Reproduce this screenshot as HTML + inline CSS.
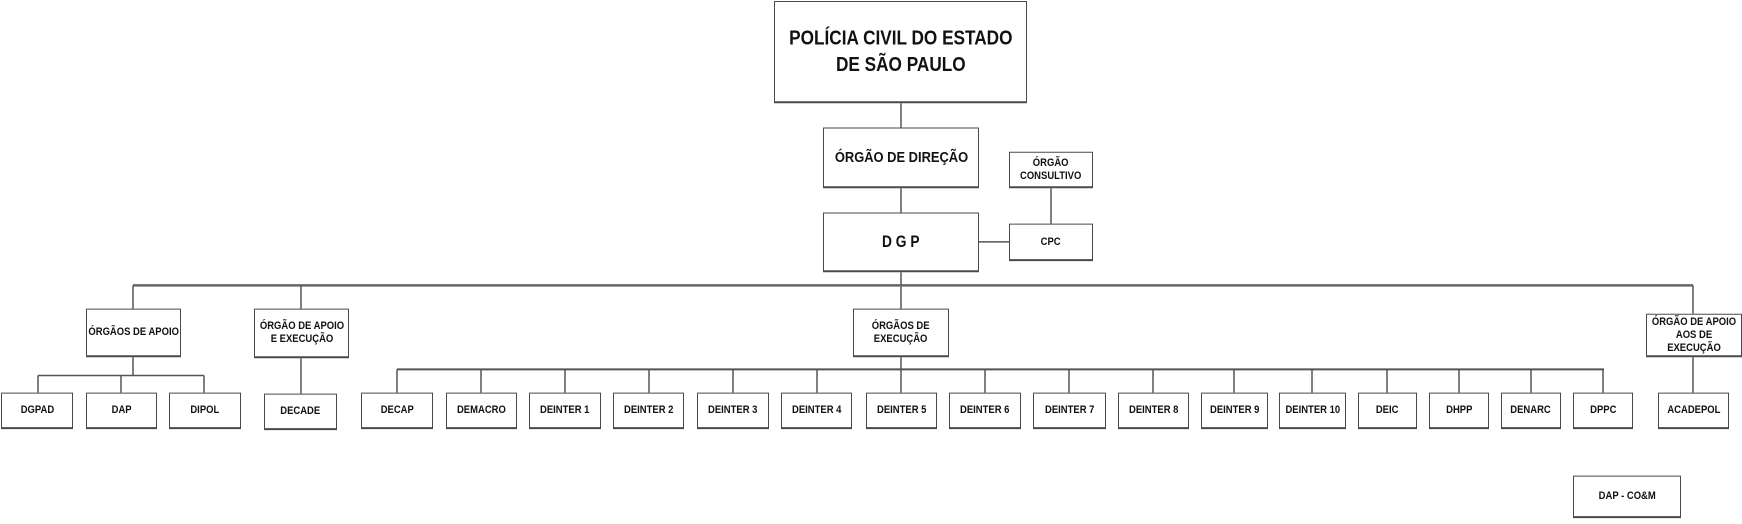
<!DOCTYPE html>
<html><head><meta charset="utf-8"><style>
body{margin:0;width:1742px;height:518px;background:#fff;position:relative;overflow:hidden;font-family:"Liberation Sans",Arial,sans-serif;}
#w{position:absolute;left:0;top:0;width:1742px;height:518px;transform:scale(1,1.012);transform-origin:0 0;}
.b{position:absolute;box-sizing:border-box;border:1.5px solid #4a4a4a;border-bottom-width:2px;background:#fff;display:flex;align-items:center;justify-content:center;text-align:center;font-weight:bold;color:#111;font-size:11px;line-height:13px;}
.b span{display:inline-block;transform:scaleX(0.86);white-space:nowrap;}
svg{position:absolute;left:0;top:0;}
</style></head><body><div id="w">
<svg width="1742" height="518">
<g stroke="#555" stroke-width="1.5" fill="none">
<line x1="901" y1="102" x2="901" y2="126"/>
<line x1="901" y1="186" x2="901" y2="210"/>
<line x1="1051" y1="186" x2="1051" y2="221"/>
<line x1="979" y1="239" x2="1009" y2="239"/>
<line x1="901" y1="269" x2="901" y2="305"/>
<line x1="133" y1="282" x2="1693" y2="282" stroke-width="2.5" stroke="#666"/>
<line x1="133" y1="282" x2="133" y2="305"/>
<line x1="301" y1="282" x2="301" y2="305"/>
<line x1="1693" y1="282" x2="1693" y2="310"/>
<line x1="133" y1="353" x2="133" y2="371"/>
<line x1="38" y1="371" x2="204" y2="371"/>
<line x1="38" y1="371" x2="38" y2="388"/>
<line x1="121" y1="371" x2="121" y2="388"/>
<line x1="204" y1="371" x2="204" y2="388"/>
<line x1="301" y1="354" x2="301" y2="389"/>
<line x1="1693" y1="353" x2="1693" y2="388"/>
<line x1="901" y1="353" x2="901" y2="365"/>
<line x1="397" y1="365" x2="1604" y2="365" stroke-width="2"/>
<line x1="397" y1="365" x2="397" y2="388"/>
<line x1="481" y1="365" x2="481" y2="388"/>
<line x1="565" y1="365" x2="565" y2="388"/>
<line x1="649" y1="365" x2="649" y2="388"/>
<line x1="733" y1="365" x2="733" y2="388"/>
<line x1="817" y1="365" x2="817" y2="388"/>
<line x1="901" y1="365" x2="901" y2="388"/>
<line x1="985" y1="365" x2="985" y2="388"/>
<line x1="1069" y1="365" x2="1069" y2="388"/>
<line x1="1153" y1="365" x2="1153" y2="388"/>
<line x1="1234" y1="365" x2="1234" y2="388"/>
<line x1="1312" y1="365" x2="1312" y2="388"/>
<line x1="1387" y1="365" x2="1387" y2="388"/>
<line x1="1459" y1="365" x2="1459" y2="388"/>
<line x1="1531" y1="365" x2="1531" y2="388"/>
<line x1="1603" y1="365" x2="1603" y2="388"/>
</g></svg>
<div class="b" style="left:774px;top:1px;width:253px;height:101px;font-size:20px;line-height:26px;"><span>POLÍCIA CIVIL DO ESTADO<br>DE SÃO PAULO</span></div>
<div class="b" style="left:823px;top:126px;width:156px;height:60px;font-size:15px;"><span>ÓRGÃO DE DIREÇÃO</span></div>
<div class="b" style="left:1009px;top:150px;width:84px;height:36px;"><span>ÓRGÃO<br>CONSULTIVO</span></div>
<div class="b" style="left:823px;top:210px;width:156px;height:59px;font-size:16px;"><span>D G P</span></div>
<div class="b" style="left:1009px;top:221px;width:84px;height:37px;"><span>CPC</span></div>
<div class="b" style="left:86px;top:305px;width:95px;height:48px;"><span>ÓRGÃOS DE APOIO</span></div>
<div class="b" style="left:254px;top:305px;width:95px;height:49px;"><span>ÓRGÃO DE APOIO<br>E EXECUÇÃO</span></div>
<div class="b" style="left:853px;top:305px;width:96px;height:48px;"><span>ÓRGÃOS DE<br>EXECUÇÃO</span></div>
<div class="b" style="left:1646px;top:310px;width:96px;height:43px;"><span>ÓRGÃO DE APOIO<br>AOS DE<br>EXECUÇÃO</span></div>
<div class="b" style="left:1px;top:388px;width:72px;height:36px;"><span>DGPAD</span></div>
<div class="b" style="left:86px;top:388px;width:71px;height:36px;"><span>DAP</span></div>
<div class="b" style="left:169px;top:388px;width:72px;height:36px;"><span>DIPOL</span></div>
<div class="b" style="left:264px;top:389px;width:73px;height:36px;"><span>DECADE</span></div>
<div class="b" style="left:361px;top:388px;width:72px;height:36px;"><span>DECAP</span></div>
<div class="b" style="left:446px;top:388px;width:71px;height:36px;"><span>DEMACRO</span></div>
<div class="b" style="left:529px;top:388px;width:72px;height:36px;"><span>DEINTER 1</span></div>
<div class="b" style="left:613px;top:388px;width:71px;height:36px;"><span>DEINTER 2</span></div>
<div class="b" style="left:697px;top:388px;width:72px;height:36px;"><span>DEINTER 3</span></div>
<div class="b" style="left:781px;top:388px;width:71px;height:36px;"><span>DEINTER 4</span></div>
<div class="b" style="left:866px;top:388px;width:71px;height:36px;"><span>DEINTER 5</span></div>
<div class="b" style="left:949px;top:388px;width:72px;height:36px;"><span>DEINTER 6</span></div>
<div class="b" style="left:1033px;top:388px;width:73px;height:36px;"><span>DEINTER 7</span></div>
<div class="b" style="left:1118px;top:388px;width:71px;height:36px;"><span>DEINTER 8</span></div>
<div class="b" style="left:1201px;top:388px;width:67px;height:36px;"><span>DEINTER 9</span></div>
<div class="b" style="left:1279px;top:388px;width:67px;height:36px;"><span>DEINTER 10</span></div>
<div class="b" style="left:1358px;top:388px;width:59px;height:36px;"><span>DEIC</span></div>
<div class="b" style="left:1429px;top:388px;width:60px;height:36px;"><span>DHPP</span></div>
<div class="b" style="left:1501px;top:388px;width:60px;height:36px;"><span>DENARC</span></div>
<div class="b" style="left:1573px;top:388px;width:60px;height:36px;"><span>DPPC</span></div>
<div class="b" style="left:1658px;top:388px;width:71px;height:36px;"><span>ACADEPOL</span></div>
<div class="b" style="left:1573px;top:470px;width:108px;height:42px;"><span>DAP - CO&amp;M</span></div>
</div></body></html>
